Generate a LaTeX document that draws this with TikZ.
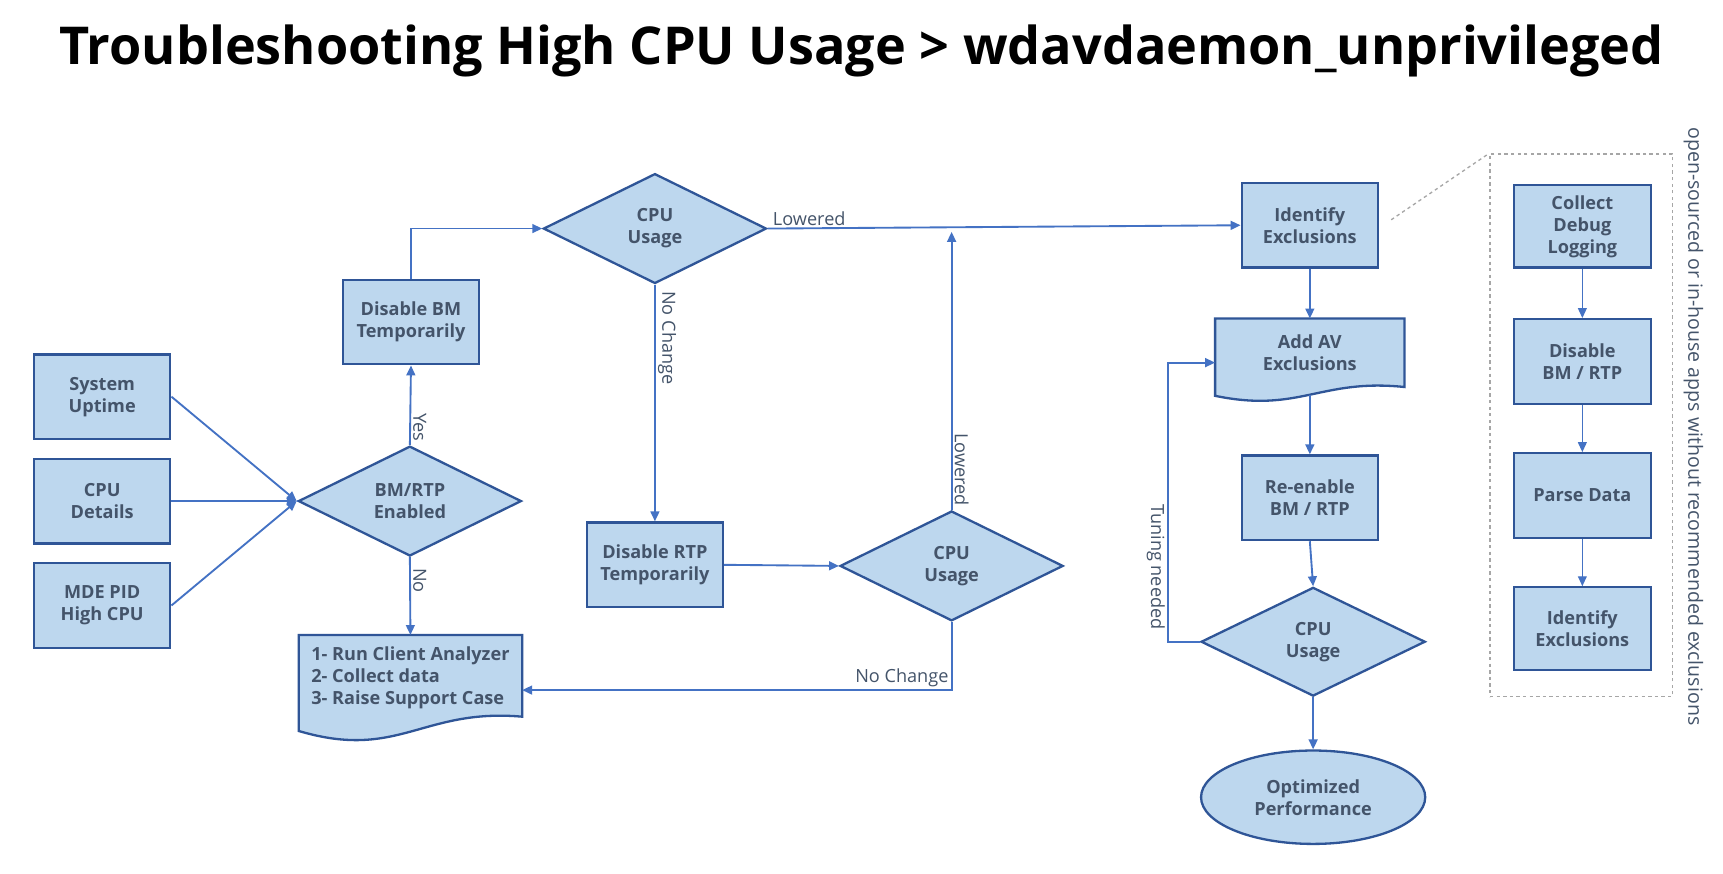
\documentclass[tikz,border=0pt]{standalone}
\usepackage{fontspec}
\setmainfont{Open Sans}
\usetikzlibrary{shapes.geometric,arrows.meta,backgrounds,calc}
\definecolor{bfill}{HTML}{BDD7EE}
\definecolor{bdraw}{HTML}{2F5597}
\definecolor{acol}{HTML}{4472C4}
\definecolor{tcol}{HTML}{44546A}
\definecolor{gcol}{HTML}{A6A6A6}
\tikzset{
  boxst/.style={rectangle, draw=bdraw, fill=bfill, line width=2.1pt, text=tcol,
    font=\bfseries\fontsize{16.5}{20}\selectfont, align=center, inner sep=0pt,
    minimum width=124pt, minimum height=77pt},
  diast/.style={diamond, draw=bdraw, fill=bfill, line width=2.1pt, text=tcol,
    font=\bfseries\fontsize{16.5}{20}\selectfont, align=center, inner sep=0pt,
    minimum width=203pt, minimum height=100pt},
  ellst/.style={ellipse, draw=bdraw, fill=bfill, line width=2.1pt, text=tcol,
    font=\bfseries\fontsize{16.5}{20}\selectfont, align=center, inner sep=0pt,
    minimum width=204pt, minimum height=85pt},
  docst/.style={rectangle, text=tcol, font=\bfseries\fontsize{16.5}{20}\selectfont,
    inner sep=0pt},
  docfill/.style={draw=bdraw, fill=bfill, line width=2.1pt},
  arr/.style={draw=acol, line width=1.7pt, -{Triangle[length=9pt,width=8pt]}},
  thinarr/.style={draw=acol, line width=1.2pt, -{Triangle[length=9pt,width=8pt]}},
  lbl/.style={text=tcol, font=\fontsize{16.5}{19}\selectfont, inner sep=2pt},
}
\begin{document}
\begin{tikzpicture}[x=1pt,y=-1pt]
\useasboundingbox (0,0) rectangle (1568,795);
\begin{scope}[on background layer]
\fill[white] (0,0) rectangle (1568,795);
\end{scope}

\node[font=\bfseries\fontsize{47.5}{52}\selectfont] (title) at (784,46)
  {Troubleshooting High CPU Usage > wdavdaemon\_unprivileged};

% left inputs
\node[boxst] (up) at (93,361) {System\\Uptime};
\node[boxst] (cd) at (93,456) {CPU\\Details};
\node[boxst] (mde) at (93,551) {MDE PID\\High CPU};
\coordinate (j) at (270,456);
\node[diast] (bm) at (373,456) {BM/RTP\\Enabled};
\node[boxst] (dbm) at (374,293) {Disable BM\\Temporarily};
\node[diast] (c1) at (596,208) {CPU\\Usage};
\node[boxst] (drtp) at (596,514) {Disable RTP\\Temporarily};
\node[diast] (c2) at (866,515) {CPU\\Usage};
\node[docst, minimum width=203pt, minimum height=78pt, align=left] (ca) at (373.5,617)
  {1- Run Client Analyzer\\2- Collect data\\3- Raise Support Case};

% middle column
\node[boxst] (ie) at (1192,205) {Identify\\Exclusions};
\node[docst, minimum width=172pt, minimum height=62pt, align=center] (av) at (1192,321)
  {Add AV\\Exclusions};
\node[boxst] (re) at (1192,453) {Re-enable\\BM / RTP};
\node[diast, minimum width=204pt, minimum height=99pt] (c3) at (1195,584) {CPU\\Usage};
\node[ellst] (op) at (1195,725.5) {Optimized\\Performance};

% right group
\node[draw=gcol, dashed, line width=1.2pt, minimum width=166pt, minimum height=494pt,
  inner sep=0pt] (grp) at (1439,387) {};
\node[boxst, minimum width=125pt, minimum height=75pt] (cdl) at (1440,206) {Collect\\Debug\\Logging};
\node[boxst, minimum width=125pt] (dbr) at (1440,329) {Disable\\BM / RTP};
\node[boxst, minimum width=125pt] (pd) at (1440,451) {Parse Data};
\node[boxst, minimum width=125pt, minimum height=75pt] (ie2) at (1440,572) {Identify\\Exclusions};
\node[lbl, rotate=-90, font=\fontsize{17.8}{20}\selectfont] (note) at (1541,388)
  {open-sourced or in-house apps without recommended exclusions};

% document shapes
\begin{scope}[on background layer]
\draw[docfill] (ca.north west) -- (ca.north east) -- ($(ca.south east)+(0,-4)$)
  .. controls ($(ca.south east)+(-91,-12)$) and ($(ca.south west)+(91,36)$) ..
  ($(ca.south west)+(0,9)$) -- cycle;
\draw[docfill] (av.north west) -- (av.north east) -- (av.south east)
  .. controls ($(av.south east)+(-77,-8)$) and ($(av.south west)+(77,24)$) ..
  ($(av.south west)+(0,8)$) -- cycle;
\end{scope}

% connectors
\draw[arr] (up.east) -- (j);
\draw[arr] (cd.east) -- (j);
\draw[arr] (mde.east) -- (j);
\draw[draw=acol, line width=1.7pt] (j) -- (bm.west);
\draw[arr] (bm.north) -- node[lbl, pos=0.22, rotate=-90, anchor=south] {Yes} (dbm.south);
\draw[arr] (bm.south) -- node[lbl, pos=0.3, rotate=-90, anchor=south] {No} (ca.north);
\draw[arr] (dbm.north) |- (c1.west);
\draw[arr] (c1.east) -- node[lbl, pos=0, anchor=south west, xshift=2pt] {Lowered} (ie.west);
\draw[arr] (c1.south) -- node[lbl, pos=0.225, rotate=-90, anchor=south] {No Change} (drtp.north);
\draw[arr] (drtp.east) -- (c2.west);
\draw[arr] (c2.north) -- node[lbl, pos=0.145, rotate=-90, anchor=south] {Lowered} ($(c2.north |- c1.east)+(0,3)$);
\draw[arr] (c2.south) |- node[lbl, pos=0.5, anchor=south east] {No Change} ([yshift=-11pt]ca.east);
\draw[arr] (ie.south) -- (av.north);
\draw[arr] ([yshift=-7pt]av.south) -- (re.north);
\draw[arr] (re.south) -- (c3.north);
\draw[arr] (c3.south) -- (op.north);
\draw[arr] (c3.west) -- ++(-29,0) |- node[lbl, pos=0.134, rotate=-90, anchor=north] {Tuning needed} ([yshift=-9pt]av.west);
\draw[draw=gcol, dashed, line width=1.2pt] ($(ie.east)+(11,-5)$) -- (grp.north west);
\draw[thinarr] (cdl.south) -- (dbr.north);
\draw[thinarr] (dbr.south) -- (pd.north);
\draw[thinarr] (pd.south) -- (ie2.north);
\end{tikzpicture}
\end{document}
